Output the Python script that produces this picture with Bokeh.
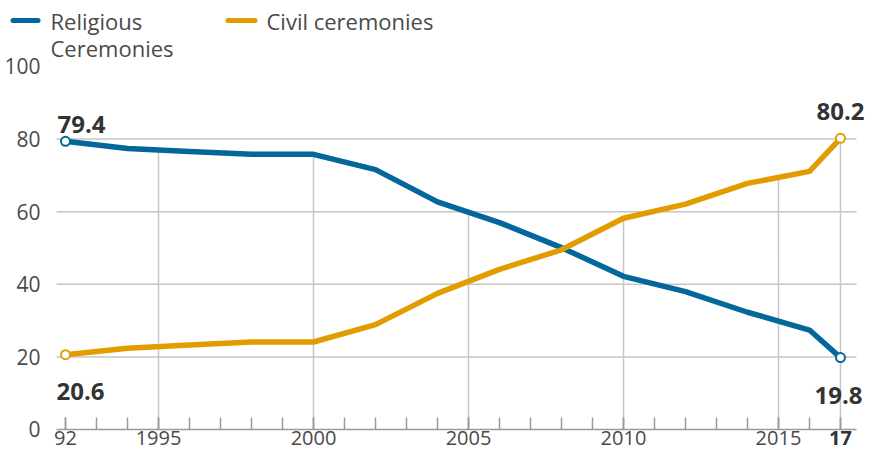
import numpy as np
from bokeh.plotting import figure
from bokeh.models import Range1d, FixedTicker, Label, BoxAnnotation
from bokeh.embed import file_html
from bokeh.resources import INLINE

years = [1992, 1994, 1996, 1998, 2000, 2002, 2004, 2006, 2008, 2010, 2012, 2014, 2016, 2017]
religious = [79.4, 77.4, 76.6, 75.8, 75.8, 71.6, 62.7, 57.0, 50.1, 42.2, 38.0, 32.3, 27.4, 19.8]
civil = [20.6, 22.4, 23.3, 24.1, 24.1, 28.9, 37.5, 44.1, 49.5, 58.2, 62.1, 67.8, 71.1, 80.2]
y_ticks = [0, 20, 40, 60, 80, 100]
grid_ticks = [20, 40, 60, 80]
x_major = [1992, 1995, 2000, 2005, 2010, 2015, 2017]
x_labels = {1992: "92", 2017: ""}
drop_years = [1995, 2000, 2005, 2010, 2015, 2017]
series_names = ["Religious", "Ceremonies", "Civil ceremonies"]

BLUE = "#03679b"
ORANGE = "#e19d00"
GRID = "#c6c6c6"
TXT = "#4a4a4a"
FONT = "Open Sans"

# plot-area extent (in data units) inside the full-canvas frame
X_LEFT, X_RIGHT = 1991.71, 2017.516

p = figure(width=866, height=460, output_backend="svg", toolbar_location=None,
           x_range=Range1d(1989.903, 2017.839), y_range=Range1d(-8.54, 118.18),
           min_border_top=0, min_border_left=0, min_border_right=0, min_border_bottom=0)
p.outline_line_color = None
p.background_fill_color = "white"
p.border_fill_color = "white"
p.xgrid.visible = False
p.ygrid.visible = False

# horizontal grid lines over the plot area
p.segment(x0=[X_LEFT] * len(grid_ticks), y0=grid_ticks, x1=[X_RIGHT] * len(grid_ticks),
          y1=grid_ticks, line_color=GRID, line_width=1.5)

# y axis
ya = p.yaxis[0]
ya.fixed_location = X_LEFT
ya.ticker = FixedTicker(ticks=y_ticks)
ya.axis_line_color = None
ya.major_tick_line_color = None
ya.minor_tick_line_color = None
ya.major_label_standoff = 10
ya.major_label_text_font = FONT
ya.major_label_text_font_size = "21px"
ya.major_label_text_color = TXT

# x axis
xa = p.xaxis[0]
xa.fixed_location = 0
xa.bounds = (X_LEFT, X_RIGHT)
xa.ticker = FixedTicker(ticks=x_major, minor_ticks=list(range(1992, 2018)))
xa.major_label_overrides = x_labels
xa.axis_line_color = "#9a9a9a"
xa.axis_line_width = 1.5
xa.major_tick_line_color = "#9a9a9a"
xa.major_tick_line_width = 1.5
xa.major_tick_in = 12
xa.major_tick_out = 0
xa.minor_tick_line_color = "#9a9a9a"
xa.minor_tick_line_width = 1.5
xa.minor_tick_in = 12
xa.minor_tick_out = 0
xa.major_label_standoff = 2
xa.major_label_text_font = FONT
xa.major_label_text_font_size = "20px"
xa.major_label_text_color = TXT

# drop lines at labelled years
tops = np.maximum(np.interp(drop_years, years, religious), np.interp(drop_years, years, civil))
p.segment(x0=drop_years, y0=[0] * len(drop_years), x1=drop_years, y1=tops,
          line_color=GRID, line_width=1.5)

# series
p.line(years, religious, line_color=BLUE, line_width=5.5, line_join="round", line_cap="round")
p.line(years, civil, line_color=ORANGE, line_width=5.5, line_join="round", line_cap="round")

for ser, col in ((religious, BLUE), (civil, ORANGE)):
    p.scatter([years[0], years[-1]], [ser[0], ser[-1]], size=9, fill_color="white",
              line_color=col, line_width=2)

# value labels
def vlabel(x, y, txt, align, xo, yo):
    p.add_layout(Label(x=x, y=y, text=txt, text_align=align, text_baseline="alphabetic",
                       x_offset=xo, y_offset=yo, text_font=FONT, text_font_style="bold",
                       text_font_size="24px", text_color="#333333"))

vlabel(years[0], religious[0], f"{religious[0]}", "left", -8, 17)
vlabel(years[0], civil[0], f"{civil[0]}", "left", -9, -37)
vlabel(years[-1], civil[-1], f"{civil[-1]}", "right", 24, 27)
vlabel(years[-1], religious[-1], f"{religious[-1]}", "right", 22, -38)

# bold "17" tick label
p.add_layout(Label(x=years[-1], y=0, text="17", text_align="center", text_baseline="top",
                   y_offset=-2, text_font=FONT, text_font_style="bold",
                   text_font_size="20px", text_color="#333333"))

# legend
p.add_layout(BoxAnnotation(left=1990.226, right=1991.194, bottom=111.98, top=113.36,
                           fill_color=BLUE, fill_alpha=1, line_color=None, border_radius=3))
p.add_layout(BoxAnnotation(left=1997.161, right=1998.194, bottom=111.98, top=113.36,
                           fill_color=ORANGE, fill_alpha=1, line_color=None, border_radius=3))
for x, y, t in ((1991.516, 112.67, series_names[0]), (1991.516, 104.96, series_names[1]),
                (1998.484, 112.67, series_names[2])):
    p.add_layout(Label(x=x, y=y, text=t, text_align="left", text_baseline="middle",
                       text_font=FONT, text_font_size="22px", text_color=TXT))

open("out.html", "w").write(file_html(p, INLINE))
